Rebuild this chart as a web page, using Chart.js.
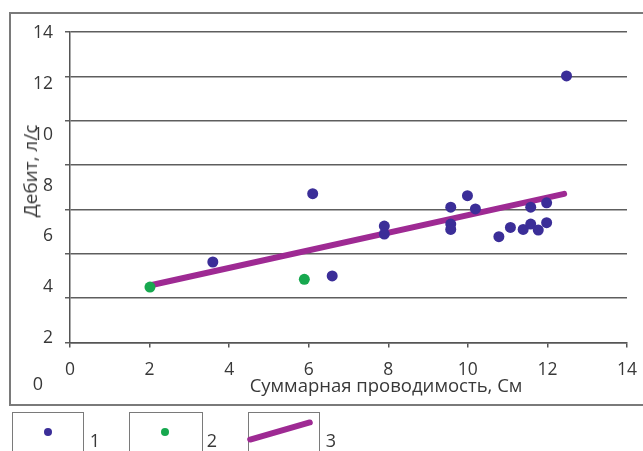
<!DOCTYPE html>
<html>
<head>
<meta charset="utf-8">
<script src="https://cdn.jsdelivr.net/npm/chart.js@4"></script>
<style>
    html, body { margin: 0; padding: 0; background: #fff; overflow: hidden; }
    body { width: 643px; height: 451px; position: relative; font-family: "Open Sans", sans-serif; color: #383838; }
    .frame { position: absolute; left: 9px; top: 12px; width: 660px; height: 390px; border: 2px solid #7a7a7a; }
    #chartBox { position: absolute; left: 0; top: 0; width: 643px; height: 451px; }
    .ytitle { position: absolute; left: 30px; top: 171px; transform: translate(-50%, -50%) rotate(-90deg); font-size: 19px; white-space: nowrap; }
    .xtitle { position: absolute; left: 386px; top: 384px; transform: translate(-50%, -50%); font-size: 18.5px; white-space: nowrap; }
    .zero { position: absolute; left: 38px; top: 383px; transform: translate(-50%, -50%); font-size: 18px; }
    .lg-box { position: absolute; top: 412px; height: 60px; border: 1.5px solid #7a7a7a; }
    .lg-dot { position: absolute; width: 8px; height: 8px; border-radius: 50%; }
    .lg-num { position: absolute; top: 440px; transform: translate(-50%, -50%); font-size: 18px; }
    .lg-line { position: absolute; left: 246px; top: 428px; width: 68px; height: 6px; border-radius: 3px; background: #9e2a93; transform: rotate(-16deg); }
</style>
</head>
<body>
<div class="frame"></div>
<div id="chartBox"><canvas id="debitChart" width="643" height="451"></canvas></div>
<div class="ytitle">Дебит, л/с</div>
<div class="xtitle">Суммарная проводимость, См</div>
<div class="zero">0</div>

<div class="lg-box" style="left: 12px; width: 70px;"><div class="lg-dot" style="left: 31px; top: 15px; background: #3b2e98;"></div></div>
<div class="lg-num" style="left: 95px;">1</div>
<div class="lg-box" style="left: 129px; width: 72px;"><div class="lg-dot" style="left: 31px; top: 15px; background: #17a84f;"></div></div>
<div class="lg-num" style="left: 212px;">2</div>
<div class="lg-box" style="left: 248px; width: 70px; overflow: hidden;"></div>
<div class="lg-line"></div>
<div class="lg-num" style="left: 331px;">3</div>

<script>
// Данные: суммарная проводимость (См) и дебит (л/с)
const group1X = [3.59, 6.10, 6.59, 7.90, 7.90, 9.57, 9.57, 9.57, 9.99, 10.19, 10.78, 11.07, 11.39, 11.58, 11.58, 11.77, 11.98, 11.98, 12.48];
const group1Y = [3.63, 6.71, 3.00, 5.25, 4.89, 6.10, 5.34, 5.10, 6.62, 6.02, 4.77, 5.19, 5.10, 6.10, 5.34, 5.07, 6.30, 5.40, 12.02];
const group2X = [2.01, 5.89];
const group2Y = [2.50, 2.85];
const trendX = [2.0, 12.42];
const trendY = [2.57, 6.70];

const xTicks = [0, 2, 4, 6, 8, 10, 12, 14];
const yGridTicks = [0, 2, 4, 6, 8, 10, 12, 14];
const yLabelTicks = [2, 4, 6, 8, 10, 12, 14];

const toPoints = (xs, ys) => xs.map((x, i) => ({ x: x, y: ys[i] }));

const textColor = '#383838';
const tickFont = { family: 'Open Sans', size: 17.5 };

new Chart(document.getElementById('debitChart').getContext('2d'), {
    type: 'scatter',
    data: {
        datasets: [{
            label: '2',
            data: toPoints(group2X, group2Y),
            backgroundColor: '#17a84f',
            borderWidth: 0,
            pointRadius: 5.5,
            order: 0
        }, {
            label: '3',
            type: 'line',
            data: toPoints(trendX, trendY),
            borderColor: '#9e2a93',
            borderWidth: 6,
            borderCapStyle: 'round',
            pointRadius: 0,
            fill: false,
            order: 2
        }, {
            label: '1',
            data: toPoints(group1X, group1Y),
            backgroundColor: '#3b2e98',
            borderWidth: 0,
            pointRadius: 5.5,
            order: 1
        }]
    },
    options: {
        responsive: false,
        animation: false,
        layout: { padding: { left: 0, right: 16, top: 32, bottom: 57 } },
        plugins: { legend: { display: false }, tooltip: { enabled: false } },
        scales: {
            x: {
                type: 'linear',
                min: 0,
                max: 14,
                afterBuildTicks: (scale) => { scale.ticks = xTicks.map(v => ({ value: v })); },
                afterFit: (scale) => {
                    scale.height = 51.5;
                    scale.paddingLeft = 0;
                    scale.paddingRight = 0;
                },
                ticks: { color: textColor, font: tickFont, padding: 12 },
                grid: { drawOnChartArea: false, drawTicks: true, tickLength: 5, color: '#555', lineWidth: 1.5 },
                border: { color: '#555', width: 1.5 }
            },
            y: {
                type: 'linear',
                min: 0,
                max: 14,
                weight: 0,
                afterBuildTicks: (scale) => { scale.ticks = yGridTicks.map(v => ({ value: v })); },
                afterFit: (scale) => { scale.width = 5; },
                ticks: { display: false },
                grid: { color: '#5e5e5e', lineWidth: 1.5, tickLength: 5 },
                border: { color: '#555', width: 1.5 }
            },
            yLabels: {
                type: 'linear',
                position: 'left',
                min: 1.825,
                max: 14.04,
                weight: 1,
                afterBuildTicks: (scale) => { scale.ticks = yLabelTicks.map(v => ({ value: v })); },
                afterFit: (scale) => { scale.width = 65; },
                ticks: { color: textColor, font: tickFont, padding: 12 },
                grid: { display: false, drawTicks: false },
                border: { display: false }
            }
        }
    }
});
</script>
</body>
</html>
